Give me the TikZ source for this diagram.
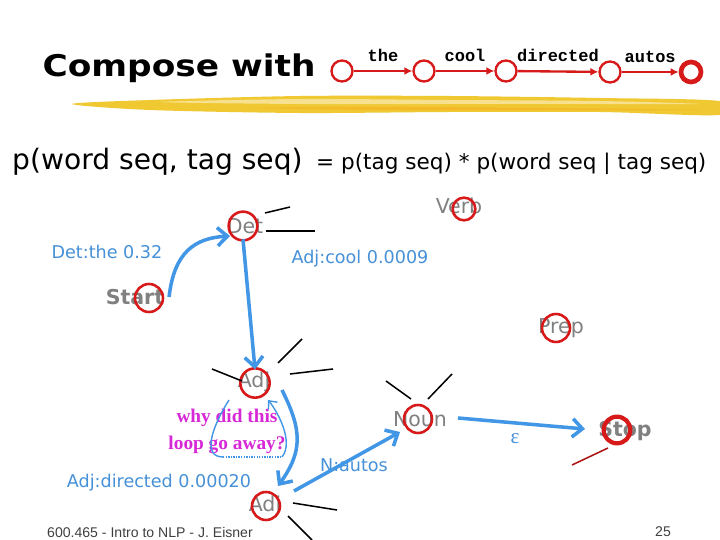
\documentclass[tikz,border=0pt]{standalone}
\usepackage{fontspec}
\usepackage{graphicx}
\usepackage{xcolor}
\setmainfont{DejaVu Sans}
\setmonofont{Liberation Mono}
\newfontfamily\footfont{Liberation Sans}
\newfontfamily\notefont{Liberation Serif}
\usetikzlibrary{arrows.meta}

\definecolor{taggray}{RGB}{128,128,128}
\definecolor{ringred}{RGB}{215,25,25}
\definecolor{arcblue}{RGB}{65,150,230}
\definecolor{labelblue}{RGB}{70,145,215}
\definecolor{notemagenta}{RGB}{215,40,215}
\definecolor{brushyellow}{RGB}{240,200,50}

\tikzset{
    tag/.style={text=taggray, inner sep=0pt, font=\fontsize{17.5}{20}\selectfont},
    endtag/.style={tag, font=\fontsize{17.5}{20}\selectfont\bfseries},
    ring/.style={circle, draw=ringred, line width=2.2pt, minimum size=0.84cm, inner sep=0pt},
    arc/.style={draw=arcblue, line width=3pt, -{Straight Barb[length=3mm,width=5.5mm]}},
    weight/.style={text=labelblue, inner sep=0pt, font=\fontsize{15}{18}\selectfont},
    stub/.style={draw=black, line width=1.3pt},
    fsa/.style={circle, draw=ringred, line width=2pt, minimum size=0.63cm, inner sep=0pt},
    fsaarc/.style={draw=ringred, line width=2pt, -{Latex[length=2.4mm,width=2.4mm]}},
    word/.style={above=7pt, inner sep=0pt, font=\ttfamily\bfseries\fontsize{14.5}{16}\selectfont}
}

\begin{document}
\begin{tikzpicture}[x=0.03cm, y=-0.03cm]

\useasboundingbox[fill=white] (0,0) rectangle (720,540);

\fill[brushyellow] plot[smooth cycle] coordinates {
    (72,104) (150,100) (300,96) (450,96) (600,98) (719,101)
    (719,115) (600,112) (450,112) (300,113) (150,110)};
\fill[brushyellow!55] plot[smooth cycle] coordinates {
    (160,102) (300,99) (450,100) (600,101) (700,104)
    (600,104) (450,104) (300,104)};
\fill[brushyellow!80!orange] plot[smooth cycle] coordinates {
    (250,108) (400,107) (550,108) (700,110) (550,110) (400,110)};

\node[anchor=base, inner sep=0pt] (compose) at (179,77)
    {\scalebox{1.15}[1]{\fontsize{25.5}{28}\selectfont\bfseries Compose with}};

\node[fsa] (q0) at (342,71) {};
\node[fsa] (q1) at (424,71) {};
\node[fsa] (q2) at (506,71) {};
\node[fsa] (q3) at (610,72) {};
\node[fsa, line width=4pt, minimum size=0.6cm] (q4) at (691,72) {};
\draw[fsaarc] (q0) -- node[word] {the} (q1);
\draw[fsaarc] (q1) -- node[word] {cool} (q2);
\draw[fsaarc] (q2) -- node[word] {directed} (q3);
\draw[fsaarc] (q3) -- node[word] {autos} (q4);

\node[anchor=base west, inner sep=0pt, font=\fontsize{24}{28}\selectfont] (joint) at (12,170)
    {p(word seq, tag seq)};
\node[anchor=base west, inner sep=0pt, font=\fontsize{18.4}{22}\selectfont] (chain) at (316,170)
    {= p(tag seq) * p(word seq | tag seq)};

\node[tag] (det) at (245,226) {Det};
\node[tag] (verb) at (459,206) {Verb};
\node[endtag] (start) at (135,297) {Start};
\node[tag] (prep) at (561,328) {Prep};
\node[tag] (adj) at (254,382) {Adj};
\node[tag] (noun) at (420,419) {Noun};
\node[endtag] (stop) at (625,431) {Stop};
\node[tag] (adjtwo) at (265,506) {Adj};

\node[ring, minimum size=0.86cm] (detring) at (243,226) {};
\node[ring, minimum size=0.68cm] (verbring) at (464,209) {};
\node[ring] (startring) at (149,298) {};
\node[ring] (prepring) at (556,328) {};
\node[ring, minimum size=0.88cm] (adjring) at (255,383) {};
\node[ring] (nounring) at (418,419) {};
\node[ring, line width=3.6pt, minimum size=0.8cm] (stopring) at (617,430) {};
\node[ring] (adjtworing) at (266,506) {};

\node[weight] (detthe) at (107,252) {Det:the 0.32};
\node[weight] (adjcool) at (360,259) {Adj:cool 0.0009};
\node[weight] (adjdirected) at (159,483) {Adj:directed 0.00020};
\node[weight] (nautos) at (354,465) {N:autos};
\node[weight, font=\notefont\fontsize{18}{20}\selectfont] (eps) at (515,439) {ε};

\node[text=notemagenta, align=center, inner sep=0pt,
    font=\notefont\bfseries\fontsize{16.5}{23}\selectfont] (why) at (227,431)
    {why did this\\loop go away?};

\draw[arc] ([xshift=4]start.east) .. controls +(5,-45) and +(-35,2) .. ([shift={(-13,10)}]detring.center);
\draw[arc] ([yshift=2]detring.south) -- ([yshift=-2]adjring.north);
\draw[arc] ([shift={(27,7)}]adjring.center) .. controls +(20,40) and +(25,-35) .. ([shift={(12,-20)}]adjtworing.center);
\draw[arc] ([shift={(28,-15)}]adjtworing.center) -- ([shift={(-18,13)}]nounring.center);
\draw[arc] ([shift={(40,-1)}]nounring.center) -- ([shift={(-32,-1)}]stopring.center);

\draw[arcblue, line width=1.2pt] ([shift={(-26,17)}]adjring.center) .. controls +(-16,25) and +(-22,0) .. ([shift={(-32,74)}]adjring.center);
\draw[arcblue, line width=1.2pt, densely dotted] ([shift={(-32,74)}]adjring.center) -- ([shift={(27,74)}]adjring.center);
\draw[arcblue, line width=1.2pt, -{Straight Barb[length=2mm,width=3.5mm]}] ([shift={(27,74)}]adjring.center) .. controls +(12,-15) and +(10,12) .. ([shift={(13,17)}]adjring.center);

\draw[stub] (detring.center) ++(22,-13) -- ++(25,-6);
\draw[stub] (detring.center) ++(23,5) -- ++(49,0);
\draw[stub] (adjring.center) ++(23,-20) -- ++(24,-24);
\draw[stub] (adjring.center) ++(35,-9) -- ++(43,-5);
\draw[stub] (adjring.center) ++(-43,-14) -- ++(30,12);
\draw[stub] (nounring.center) ++(-32,-38) -- ++(25,18);
\draw[stub] (nounring.center) ++(10,-20) -- ++(24,-25);
\draw[stub] (adjtworing.center) ++(27,-3) -- ++(44,7);
\draw[stub] (adjtworing.center) ++(22,10) -- ++(24,24);
\draw[draw=ringred!80!black, line width=1.3pt] (stopring.center) ++(-9,18) -- ++(-36,17);

\node[text=black!75, inner sep=0pt, font=\footfont\fontsize{12}{14}\selectfont] (footer) at (150,532)
    {600.465 - Intro to NLP - J. Eisner};
\node[text=black!75, inner sep=0pt, font=\footfont\fontsize{12}{14}\selectfont] (page) at (663,532) {25};

\end{tikzpicture}
\end{document}
